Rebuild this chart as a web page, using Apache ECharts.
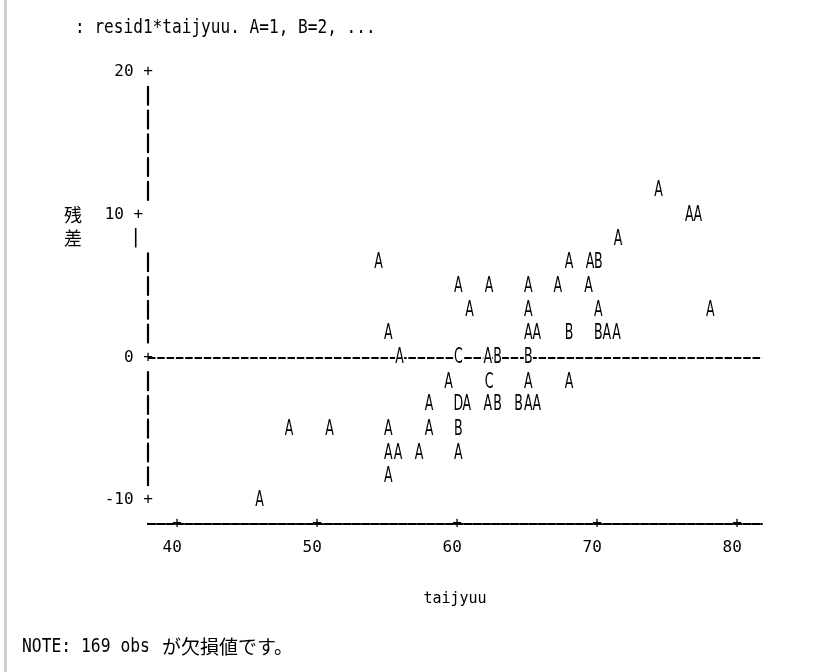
<!DOCTYPE html>
<html><head><meta charset="utf-8">
<script src="https://cdn.jsdelivr.net/npm/echarts@6/dist/echarts.min.js"></script>
<style>html,body{margin:0;padding:0;background:#fff}#c{width:813px;height:672px}</style>
</head><body><div id="c"></div>
<script>
// ---- data ----
const xTicks = [40, 50, 60, 70, 80];
const yTicks = [-10, 0, 10, 20];
const titleText = ': resid1*taijyuu. A=1, B=2, ...';
const xName = 'taijyuu';
const yName = ['残', '差'];
const noteLatin = 'NOTE: 169 obs';
const noteJa = 'が欠損値です。';

const taijyuu = [
  74.4,
  76.6, 77.2,
  71.5,
  54.4, 68.0, 69.5, 70.1,
  60.1, 62.3, 65.1, 67.2, 69.4,
  60.9, 65.1, 70.1, 78.1,
  55.1, 65.1, 65.7, 68.0, 70.1, 70.7, 71.4,
  55.9, 60.1, 62.2, 62.9, 65.1,
  59.4, 62.3, 65.1, 68.0,
  58.0, 60.1, 60.7, 62.2, 62.9, 64.4, 65.1, 65.7,
  48.0, 50.9, 55.1, 58.0, 60.1,
  55.1, 55.8, 57.3, 60.1,
  55.1,
  45.9
];
const resid = [
  11.7,
  10, 10,
  8.3,
  6.7, 6.7, 6.7, 6.7,
  5, 5, 5, 5, 5,
  3.3, 3.3, 3.3, 3.3,
  1.7, 1.7, 1.7, 1.7, 1.7, 1.7, 1.7,
  0, 0, 0, 0, 0,
  -1.7, -1.7, -1.7, -1.7,
  -3.3, -3.3, -3.3, -3.3, -3.3, -3.3, -3.3, -3.3,
  -5, -5, -5, -5, -5,
  -6.7, -6.7, -6.7, -6.7,
  -8.3,
  -10
];
const letters = [
  'A',
  'A', 'A',
  'A',
  'A', 'A', 'A', 'B',
  'A', 'A', 'A', 'A', 'A',
  'A', 'A', 'A', 'A',
  'A', 'A', 'A', 'B', 'B', 'A', 'A',
  'A', 'C', 'A', 'B', 'B',
  'A', 'C', 'A', 'A',
  'A', 'D', 'A', 'A', 'B', 'B', 'A', 'A',
  'A', 'A', 'A', 'A', 'B',
  'A', 'A', 'A', 'A',
  'A',
  'A'
];
const shiftedBarValue = 8.333;

// ---- chart ----
const ROW = 23.78;
const mono = '"DejaVu Sans Mono", "Liberation Mono", monospace';
const dashGap = ROW - 18;
const yAxisDash = [0, 2 * ROW - 9,
  18, dashGap, 18, dashGap, 18, dashGap, 18, dashGap, 18,
  2 * ROW - 18,
  18, dashGap, 18, dashGap, 18, dashGap, 18,
  3 * ROW - 18,
  18, dashGap, 18, dashGap, 18, dashGap, 18, dashGap, 18, 200];

const chart = echarts.init(document.getElementById('c'), null, {renderer: 'canvas'});
chart.setOption({
  animation: false,
  backgroundColor: '#fff',
  grid: {left: 148, right: 51, top: 72, bottom: 672 - 72 - 18 * ROW - ROW},
  xAxis: {
    type: 'value', min: 37.93, max: 81.79,
    splitLine: {show: false},
    axisTick: {show: false},
    axisLine: {show: true, onZero: false, lineStyle: {color: '#000', width: 2, type: [7.5, 1.8]}},
    axisLabel: {
      customValues: xTicks,
      margin: -ROW / 2,
      lineHeight: ROW,
      fontFamily: mono, fontSize: 16, color: '#000',
      formatter: v => ' + \n' + v + ' '
    },
    name: xName, nameLocation: 'middle', nameGap: 68,
    nameTextStyle: {fontFamily: mono, fontSize: 15, color: '#000'}
  },
  yAxis: {
    type: 'value', min: -35 / 3, max: 20,
    splitLine: {show: false},
    axisTick: {show: false},
    axisLine: {show: true, onZero: false, lineStyle: {color: '#000', width: 2.2, type: yAxisDash}},
    axisLabel: {
      customValues: yTicks.concat([shiftedBarValue]),
      margin: -4.8,
      fontFamily: mono, fontSize: 16, color: '#000',
      formatter: v => {
        if (Math.abs(v - shiftedBarValue) < 0.01) return '{bar|| }';
        if (v === 10) return '10 + ';
        return v + ' +';
      },
      rich: {bar: {fontFamily: mono, fontSize: 19, color: '#000'}}
    }
  },
  graphic: [
    {type: 'rect', x: 4, y: 0, shape: {width: 3, height: 672}, style: {fill: '#cfcfcf'}, silent: true},
    {type: 'text', x: 75, y: 28, scaleX: 0.848, silent: true,
      style: {text: titleText, font: '19px ' + mono, fill: '#000', align: 'left', verticalAlign: 'middle'}},
    {type: 'text', x: 73, y: 72 + 6 * ROW, silent: true,
      style: {text: yName[0], font: '18px "Noto Sans CJK JP"', fill: '#000', align: 'center', verticalAlign: 'middle'}},
    {type: 'text', x: 73, y: 72 + 7 * ROW, silent: true,
      style: {text: yName[1], font: '18px "Noto Sans CJK JP"', fill: '#000', align: 'center', verticalAlign: 'middle'}},
    {type: 'text', x: 22, y: 647, scaleX: 0.86, silent: true,
      style: {text: noteLatin, font: '19px ' + mono, fill: '#000', align: 'left', verticalAlign: 'middle'}},
    {type: 'text', x: 162, y: 647, silent: true,
      style: {text: noteJa, font: '19px "Noto Sans CJK JP"', fill: '#000', align: 'left', verticalAlign: 'middle'}}
  ],
  series: [
    {
      type: 'line', data: [], z: 1, silent: true,
      markLine: {
        silent: true, symbol: 'none', animation: false,
        label: {show: false},
        lineStyle: {color: '#000', width: 2, type: [7.5, 1.8]},
        data: [{yAxis: 0}]
      }
    },
    {
      type: 'custom', z: 5, silent: true,
      data: taijyuu.map((x, i) => [x, resid[i]]),
      renderItem: function (params, api) {
        const i = params.dataIndex;
        const pt = api.coord([api.value(0), api.value(1)]);
        const children = [];
        if (resid[i] === 0) {
          children.push({type: 'rect', shape: {x: pt[0] - 4.5, y: pt[1] - 4, width: 9, height: 8}, style: {fill: '#fff'}});
        }
        children.push({
          type: 'text', x: pt[0], y: pt[1] + 0.5, scaleX: 0.6,
          style: {text: letters[i], font: '21px "DejaVu Sans"', fill: '#000', align: 'center', verticalAlign: 'middle'}
        });
        return {type: 'group', children: children};
      }
    }
  ]
});
</script>
</body></html>
